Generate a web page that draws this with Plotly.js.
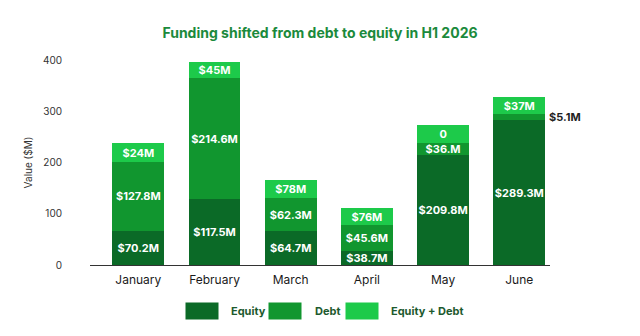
<!DOCTYPE html>
<html>
<head>
<meta charset="utf-8">
<script src="https://cdn.plot.ly/plotly-3.0.1.min.js"></script>
<style>html,body{margin:0;padding:0;background:#fff}#chart{width:640px;height:336px}</style>
</head>
<body>
<div id="chart"></div>
<script>
// Data
const months = ["January", "February", "March", "April", "May", "June"];
const seriesNames = ["Equity", "Debt", "Equity + Debt"];
// segment heights as drawn ($M)
const equity = [67, 128, 67, 27, 215, 282];
const debt = [134, 236, 63, 51, 23, 13];
const equityDebt = [37, 33, 35, 33, 35, 32];
// label texts as printed on the chart
const equityLabels = ["$70.2M", "$117.5M", "$64.7M", "$38.7M", "$209.8M", "$289.3M"];
const debtLabels = ["$127.8M", "$214.6M", "$62.3M", "$45.6M", "$36.M", "$5.1M"];
const equityDebtLabels = ["$24M", "$45M", "$78M", "$76M", "0", "$37M"];
const yTicks = [0, 100, 200, 300, 400];

const colors = ["#0b6a27", "#11962f", "#1dca4a"];
const FONT = "Inter, 'Liberation Sans', sans-serif";

// debt label for June drawn outside the bar
const debtInside = debtLabels.map((t, i) => (i === 5 ? "" : t));

function barTrace(name, y, text, color) {
  return {
    type: "bar", x: months, y: y, name: name, text: text,
    textposition: "inside", insidetextanchor: "middle", constraintext: "none", textangle: 0,
    textfont: {family: FONT, size: 11, color: "#ffffff", weight: 700},
    marker: {color: color, line: {width: 0}},
    hoverinfo: "skip", cliponaxis: false
  };
}

const traces = [
  barTrace(seriesNames[0], equity, equityLabels, colors[0]),
  barTrace(seriesNames[1], debt, debtInside, colors[1]),
  barTrace(seriesNames[2], equityDebt, equityDebtLabels, colors[2])
];

const annotations = [{
  x: months[5], y: equity[5] + debt[5] / 2, xref: "x", yref: "y",
  text: debtLabels[5], showarrow: false, xanchor: "left", yanchor: "middle", xshift: 28,
  font: {family: FONT, size: 11, color: "#222222", weight: 700}
}];

// custom legend
const legendSwatchX = [0.2435, 0.4246, 0.5913];
const legendTextX = [0.302, 0.484, 0.649];
seriesNames.forEach((n, i) => {
  annotations.push({
    x: legendSwatchX[i], y: -0.224, xref: "paper", yref: "paper", text: " ",
    showarrow: false, xanchor: "center", yanchor: "middle", width: 32, height: 16,
    bgcolor: colors[i], borderpad: 0, font: {size: 10}
  });
  annotations.push({
    x: legendTextX[i], y: -0.224, xref: "paper", yref: "paper", text: n,
    showarrow: false, xanchor: "left", yanchor: "middle",
    font: {family: FONT, size: 11, color: "#1d5a2e", weight: 700}
  });
});

const layout = {
  width: 640, height: 336,
  margin: {l: 90, r: 90, t: 60, b: 71, pad: 0},
  paper_bgcolor: "#ffffff", plot_bgcolor: "#ffffff",
  barmode: "stack", bargap: 0.32, showlegend: false,
  title: {text: "Funding shifted from debt to equity in H1 2026", x: 0.5, xanchor: "center",
    y: 1 - 33 / 336, yref: "container", yanchor: "middle",
    font: {family: FONT, size: 14, color: "#1b8a3c", weight: 700}},
  xaxis: {type: "category", range: [-0.634, 5.403], showline: true, linecolor: "#333333", linewidth: 1,
    ticks: "", showgrid: false, zeroline: false, ticklabelstandoff: 4,
    tickfont: {family: FONT, size: 12, color: "#1a1a1a"}, fixedrange: true},
  yaxis: {range: [0, 400], tickvals: yTicks, ticktext: yTicks.map(String), showgrid: false,
    zeroline: false, showline: false, ticks: "", ticklabelstandoff: 27,
    tickfont: {family: FONT, size: 10, color: "#333333"},
    title: {text: "Value ($M)", standoff: 8, font: {family: FONT, size: 10, color: "#333333"}},
    fixedrange: true},
  annotations: annotations
};

Plotly.newPlot("chart", traces, layout, {displayModeBar: false, staticPlot: true});
</script>
</body>
</html>
